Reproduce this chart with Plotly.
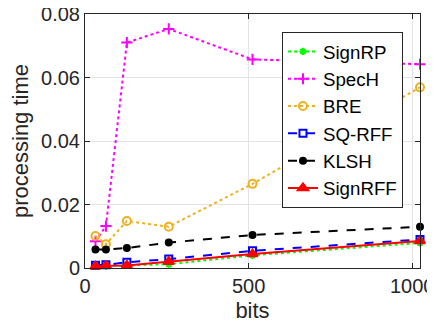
import plotly.graph_objects as go

bits = [32, 64, 128, 256, 512, 1024]
signrp = [0.0005, 0.0006, 0.0008, 0.0012, 0.0040, 0.0079]
spech = [0.0084, 0.0132, 0.0710, 0.0753, 0.0657, 0.0642]
bre = [0.0101, 0.0075, 0.0148, 0.0130, 0.0265, 0.0569]
sqrff = [0.0009, 0.0010, 0.0018, 0.0028, 0.0054, 0.0090]
klsh = [0.0058, 0.0058, 0.0063, 0.0080, 0.0104, 0.0130]
signrff = [0.0005, 0.0007, 0.0008, 0.0020, 0.0044, 0.0085]

names = ["SignRP", "SpecH", "BRE", "SQ-RFF", "KLSH", "SignRFF"]
series = [signrp, spech, bre, sqrff, klsh, signrff]
colors = ["#00FF00", "#FF00FF", "#EDB120", "#0000FF", "#000000", "#FF0000"]
dashes = ["dot", "dot", "dot", "dash", "dash", "solid"]
symbols = ["asterisk-open", "cross-thin-open", "circle-open", "square-open", "circle", "triangle-up"]
msizes = [6, 8, 8, 7, 6, 9]

fig = go.Figure()
for n, s, c, d, sym, ms in zip(names, series, colors, dashes, symbols, msizes):
    fig.add_trace(go.Scatter(
        x=bits, y=s, name=n, mode="lines+markers",
        line=dict(color=c, dash=d, width=2),
        marker=dict(symbol=sym, size=ms, color=c, line=dict(color=c, width=2)),
        cliponaxis=False,
    ))

axis_common = dict(
    showline=True, linecolor="#262626", linewidth=1, mirror="ticks",
    ticks="inside", ticklen=5, tickcolor="#262626",
    showgrid=True, gridcolor="#E3E3E3", gridwidth=1, zeroline=False,
    automargin=False, ticklabeloverflow="allow",
    tickfont=dict(family="Liberation Sans, Arial", size=20, color="#262626"),
)

# page body has an 8px default margin; size/margins compensate for it
fig.update_layout(
    width=427, height=322,
    margin=dict(l=77, r=15, t=6, b=62),
    paper_bgcolor="white", plot_bgcolor="white",
    font=dict(family="Liberation Sans, Arial", size=20, color="#262626"),
    xaxis=dict(range=[0, 1024], tickvals=[0, 500, 1000],
               title=dict(text="bits", standoff=6, font=dict(size=22, color="#262626")),
               **axis_common),
    yaxis=dict(range=[0, 0.08], tickvals=[0, 0.02, 0.04, 0.06, 0.08],
               ticktext=["0", "0.02", "0.04", "0.06", "0.08"],
               title=dict(text="processing time", standoff=6, font=dict(size=22, color="#262626")),
               **axis_common),
    legend=dict(x=0.588, y=0.93, xanchor="left", yanchor="top",
                bgcolor="white", bordercolor="#262626", borderwidth=1,
                font=dict(family="Liberation Sans, Arial", size=18.7, color="#000000"),
                tracegroupgap=0, itemwidth=30),
    showlegend=True,
)

fig.write_html("out.html")
